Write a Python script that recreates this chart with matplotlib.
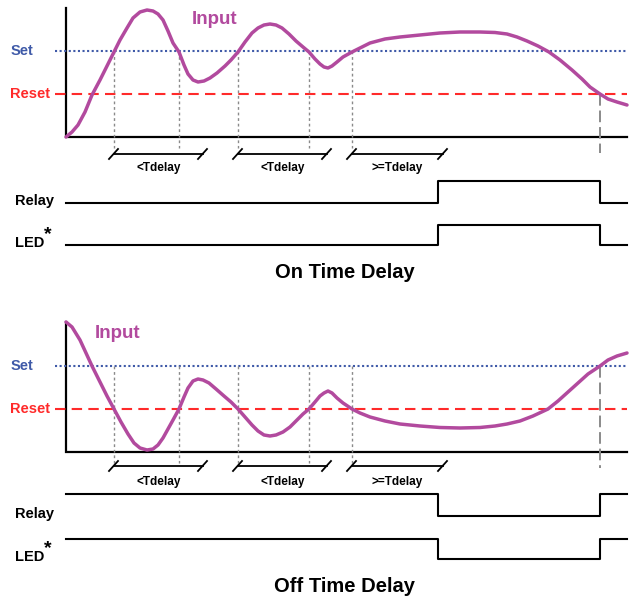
import numpy as np
import matplotlib.pyplot as plt

plt.rcParams['font.family'] = ['Liberation Sans', 'DejaVu Sans']

# input levels (baseline = 0), time in the same units as the drawing
SET, RESET = 86, 43

on_t = [66, 72, 78, 85, 92, 100, 107, 114, 120, 127, 133, 140, 147, 153, 158, 163, 168, 173,
        179, 184, 188, 193, 198, 204, 210, 217, 225, 231, 238, 245, 252, 258, 264, 270, 276,
        282, 289, 296, 303, 309, 315, 320, 324, 328, 332, 337, 343, 352, 360, 370, 385, 400,
        420, 440, 460, 480, 495, 507, 517, 527, 538, 549, 560, 572, 582, 590, 600, 608, 617, 627]
on_level = [0, 5, 12, 25, 42, 57, 71, 85, 97, 109, 119, 125, 127, 126, 123, 117, 106, 94,
            85, 72, 63, 57, 55, 56, 59, 64, 71, 77, 85, 95, 104, 109, 112, 113, 112,
            109, 103, 96, 90, 85, 78, 73, 70, 69, 71, 75, 80, 85, 89, 94, 98, 100,
            102, 104, 105, 105, 104.5, 103, 100, 96, 91, 85, 77, 67, 58, 50, 43, 38, 35, 32]

off_t = [66, 72, 80, 86, 92, 100, 107, 114, 121, 128, 134, 140, 147, 153, 158, 163, 168, 173,
         179, 184, 188, 193, 198, 203, 209, 216, 224, 231, 238, 245, 252, 258, 264, 270, 276,
         283, 290, 297, 303, 309, 315, 320, 324, 328, 332, 337, 343, 352, 360, 370, 385, 400,
         420, 440, 460, 480, 495, 507, 520, 533, 548, 558, 568, 578, 588, 600, 608, 617, 627]
off_level = [130, 125, 112, 99, 86, 70, 56, 43, 30, 18, 9, 4, 2, 3, 7, 14, 23, 32,
             43, 55, 64, 71, 73, 72, 69, 63, 56, 50, 43, 35, 27, 21, 17, 16, 17,
             20, 25, 32, 38, 43, 50, 56, 59, 61, 59, 54, 49, 43, 39, 35, 31, 28,
             26, 24.5, 24, 24.5, 26, 28, 31, 36, 43, 51, 60, 69, 78, 86, 92, 96, 99]

crossings = [114, 179, 238, 309, 352]
release_t = 600
delay_start = [114, 238, 352]
delay_end = [203, 327, 443]
delay_labels = ['<Tdelay', '<Tdelay', '>=Tdelay']

out_t = [66, 438, 600, 627]
on_state = [0, 1, 0, 0]
off_state = [1, 0, 1, 1]

MAG = '#b24a9e'
BLUE = '#3f5aa8'
RED = '#ff2a2a'
GRAY = '#8a8a8a'

fig = plt.figure(figsize=(6.32, 6.01), dpi=100)
ax = fig.add_axes([0, 0, 1, 1])
ax.set_xlim(0, 632)
ax.set_ylim(601, 0)
ax.axis('off')

panels = [
    dict(t=on_t, lv=on_level, base=137, top=8, vend=148, rel_end=153, rel_from=RESET,
         brk=154, brk_txt=168, relay=203, led=245, title='On Time Delay', ty=272,
         inp=(215, 19), state=on_state),
    dict(t=off_t, lv=off_level, base=452, top=322, vend=463, rel_end=468, rel_from=SET,
         brk=466, brk_txt=482, relay=516, led=559, title='Off Time Delay', ty=586,
         inp=(118, 333), state=off_state),
]

for p in panels:
    b = p['base']
    # axes
    ax.plot([66, 66, 627], [p['top'], b, b], color='black', lw=1.6, solid_joinstyle='miter')
    # thresholds
    ax.plot([55, 627], [b - SET] * 2, color=BLUE, lw=1.5, dashes=(1, 1.2))
    ax.plot([55, 627], [b - RESET] * 2, color=RED, lw=1.5, dashes=(5, 3))
    ax.text(11, b - SET, 'Set', color=BLUE, fontsize=10.5, fontweight='bold', va='center')
    ax.text(10, b - RESET, 'Reset', color=RED, fontsize=10.5, fontweight='bold', va='center')
    # crossing guides
    for x in crossings:
        ax.plot([x, x], [b - SET, p['vend']], color=GRAY, lw=1, dashes=(2, 2))
    ax.plot([release_t, release_t], [b - p['rel_from'], p['rel_end']], color=GRAY, lw=1.4,
            dashes=(6, 2.5))
    # input curve
    ax.plot(p['t'], b - np.array(p['lv']), color=MAG, lw=2.5, solid_joinstyle='round',
            solid_capstyle='round')
    ax.text(p['inp'][0], p['inp'][1], 'Input', color=MAG, fontsize=13.5, fontweight='bold',
            ha='center', va='center')
    # delay brackets
    y = p['brk']
    for s, e, lab in zip(delay_start, delay_end, delay_labels):
        ax.plot([s, e], [y, y], color='black', lw=1.3)
        for x in (s, e):
            ax.plot([x - 5, x + 4], [y + 5, y - 5], color='black', lw=1.3)
        ax.text((s + e) / 2, p['brk_txt'], lab, fontsize=8.5, fontweight='bold',
                ha='center', va='center')
    # outputs
    st = np.array(p['state'])
    ax.step(out_t, p['relay'] - st * 22, where='post', color='black', lw=1.5)
    ax.step(out_t, p['led'] - st * 20, where='post', color='black', lw=1.5)
    ax.text(15, p['relay'] - 2, 'Relay', fontsize=10.5, fontweight='bold', va='center')
    ax.text(15, p['led'] - 2, 'LED', fontsize=10.5, fontweight='bold', va='center')
    ax.text(44, p['led'] - 10, '*', fontsize=14, fontweight='bold', va='center')
    ax.text(345, p['ty'], p['title'], fontsize=14.5, fontweight='bold', ha='center', va='center')

fig.savefig('out.png', dpi=100)
